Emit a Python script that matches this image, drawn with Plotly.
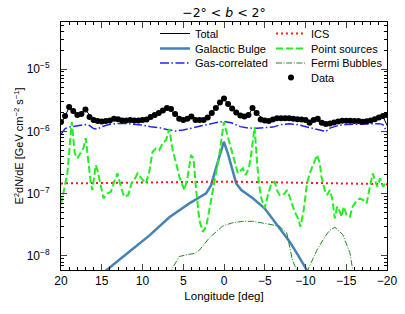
import plotly.graph_objects as go

# ---------------- data ----------------
data_l = [20, 19.5, 19, 18.5, 18, 17.5, 17, 16.5, 16, 15.5, 15, 14.5, 14, 13.5, 13, 12.5, 12, 11.5, 11, 10.5,
          10, 9.5, 9, 8.5, 8, 7.5, 7, 6.5, 6, 5.5, 5, 4.5, 4, 3.5, 3, 2.5, 2, 1.5, 1, 0.5,
          0, -0.5, -1, -1.5, -2, -2.5, -3, -3.5, -4, -4.5, -5, -5.5, -6, -6.5, -7, -7.5, -8, -8.5, -9, -9.5,
          -10, -10.5, -11, -11.5, -12, -12.5, -13, -13.5, -14, -14.5, -15, -15.5, -16, -16.5, -17, -17.5,
          -18, -18.5, -19, -19.5, -20]
data_v = [1.41, 1.76, 2.45, 2.12, 1.83, 1.90, 2.24, 1.70, 1.52, 1.46, 1.44, 1.46, 1.49, 1.60, 1.56, 1.49, 1.49, 1.52, 1.49, 1.49,
          1.52, 1.55, 1.70, 1.83, 1.97, 2.16, 2.37, 2.28, 1.90, 1.60, 1.52, 1.60, 1.73, 1.52, 1.52, 1.52, 1.67, 1.97, 2.37, 2.90,
          3.36, 2.74, 2.32, 2.00, 1.79, 1.73, 1.83, 2.37, 1.97, 1.55, 1.49, 1.46, 1.55, 1.62, 1.62, 1.62, 1.62, 1.60, 1.56, 1.55,
          1.52, 1.38, 1.52, 1.60, 1.38, 1.31, 1.34, 1.39, 1.44, 1.48, 1.48, 1.48, 1.46, 1.46, 1.43, 1.45,
          1.49, 1.56, 1.67, 1.76, 1.83]  # x 1e-6

total_l = [20, 19.5, 19, 18, 17, 16, 15, 14, 13, 12, 11, 10, 9, 8, 7, 6, 5, 4, 3, 2, 1, 0,
           -1, -2, -3, -3.5, -4, -5, -6, -7, -8, -9, -10, -11, -12, -13, -14, -15, -16, -17, -18, -19, -19.5, -20]
total_v = [1.30, 1.75, 2.40, 1.85, 2.20, 1.55, 1.45, 1.49, 1.55, 1.50, 1.50, 1.52, 1.68, 1.95, 2.35, 1.90, 1.52, 1.72, 1.52, 1.66, 2.35, 3.30,
           2.30, 1.78, 1.82, 2.35, 1.95, 1.50, 1.55, 1.62, 1.62, 1.56, 1.52, 1.50, 1.40, 1.34, 1.44, 1.48, 1.46, 1.43, 1.49, 1.66, 1.75, 1.25]  # x 1e-6

gas_l = [20, 19.5, 19, 18, 17, 16.5, 16, 15.5, 15, 14, 13, 12, 11, 10, 9, 8, 7, 6, 5, 4, 3, 2, 1, 0,
         -1, -2, -3, -4, -5, -6, -7, -8, -9, -10, -11, -12, -12.5, -13, -14, -15, -16, -17, -18, -19, -19.5, -20]
gas_v = [0.90, 1.11, 1.17, 1.24, 1.285, 1.24, 1.11, 1.09, 1.19, 1.295, 1.34, 1.34, 1.31, 1.26, 1.19, 1.15, 1.07, 1.01, 1.05, 1.13, 1.22, 1.31, 1.38, 1.44,
         1.36, 1.19, 1.13, 1.12, 1.13, 1.17, 1.285, 1.33, 1.285, 1.19, 1.09, 1.03, 0.993, 1.13, 1.24, 1.285, 1.295, 1.30, 1.31, 1.33, 1.285, 0.975]  # x 1e-6

ics_l = [20, 15, 10, 5, 0, -5, -10, -15, -20]
ics_v = [1.46, 1.48, 1.50, 1.54, 1.56, 1.53, 1.50, 1.46, 1.42]  # x 1e-7

bulge_l = [15, 14.5, 11.63, 9.17, 6.71, 4.25, 2.19, 1.58, 1.17, 0.55, 0.02, -0.47, -1.08, -1.5, -2.12, -3.54, -4.98,
           -6.42, -8.06, -9.08, -10.12, -10.5]
bulge_v = [5.0e-9, 5.8e-9, 1.17e-8, 2.12e-8, 4.17e-8, 6.98e-8, 1.01e-7, 1.37e-7, 2.12e-7, 3.91e-7, 6.81e-7, 4.44e-7, 2.39e-7,
           1.46e-7, 1.14e-7, 8.41e-8, 5.81e-8, 3.33e-8, 1.69e-8, 1.03e-8, 6.3e-9, 5.0e-9]

ps_l = [20.0, 19.22, 18.68, 18.31, 17.99, 17.58, 17.26, 16.96, 16.68, 16.34, 16.15, 15.73, 15.53, 15.11, 14.79, 14.30,
        13.88, 13.48, 13.07, 12.65, 12.25, 11.75, 11.35, 11.02, 10.61, 10.12, 9.58, 9.17, 8.76, 8.34, 7.94, 7.53,
        7.11, 6.71, 6.30, 5.88, 5.48, 4.86, 4.46, 4.04, 3.75, 3.42, 3.02, 2.61, 2.19, 1.58, 0.96, 0.55,
        0.02, -0.59, -0.89, -1.29, -1.70, -1.91, -2.31, -2.65, -3.05, -3.35, -3.75, -4.04, -4.28, -4.58, -4.98, -5.39,
        -5.81, -6.22, -6.50, -6.83, -7.24, -7.45, -7.73, -7.98, -8.27, -8.68, -9.08, -9.38, -9.78, -10.19, -10.52, -10.81,
        -11.14, -11.42, -11.75, -11.96, -12.37, -12.65, -12.98, -13.27, -13.60, -13.88, -14.22, -14.42, -14.71, -15.04, -15.45, -15.78,
        -16.18, -16.68, -17.08, -17.50, -17.82, -18.24, -18.52, -18.81, -19.14, -19.54, -19.88]
ps_v = [6.76e-8, 2.12e-7, 1.41e-6, 4.44e-7, 3.69e-7, 4.44e-7, 5.33e-7, 7.76e-7, 3.46e-7, 1.46e-7, 1.14e-7, 2.88e-7, 2.39e-7, 1.22e-7, 8.41e-8, 1.01e-7,
        1.07e-7, 1.55e-7, 2.12e-7, 1.29e-7, 8.91e-8, 9.51e-8, 1.46e-7, 1.65e-7, 2.12e-7, 1.76e-7, 1.46e-7, 2.25e-7, 4.71e-7, 5.33e-7, 5.01e-7, 6.41e-7,
        7.24e-7, 1.09e-6, 5.01e-7, 3.10e-7, 1.87e-7, 1.14e-7, 1.87e-7, 4.17e-7, 3.72e-7, 1.14e-7, 3.77e-8, 2.44e-8, 2.94e-8, 7.89e-8, 2.12e-7, 4.44e-7,
        1.41e-6, 7.24e-7, 5.01e-7, 3.46e-7, 2.12e-7, 2.25e-7, 2.55e-7, 1.99e-7, 2.55e-7, 4.44e-7, 1.17e-6, 3.46e-7, 1.46e-7, 8.41e-8, 5.81e-8, 9.51e-8,
        1.46e-7, 1.55e-7, 1.14e-7, 9.51e-8, 9.51e-8, 1.01e-7, 1.14e-7, 9.51e-8, 7.41e-8, 5.12e-8, 4.02e-8, 2.94e-8, 5.46e-8, 1.46e-7, 2.12e-7, 2.70e-7,
        3.46e-7, 4.17e-7, 3.06e-7, 1.87e-7, 1.14e-7, 9.51e-8, 1.14e-7, 8.41e-8, 4.02e-8, 6.17e-8, 5.12e-8, 4.26e-8, 6.17e-8, 4.54e-8, 4.26e-8, 6.17e-8,
        7.41e-8, 8.41e-8, 7.89e-8, 6.98e-8, 1.14e-7, 2.12e-7, 1.65e-7, 1.29e-7, 1.76e-7, 1.29e-7, 1.55e-7]

fb_l = [6.8, 6.46, 5.5, 4.5, 3.6, 3.0, 1.8, 0.2, -1.0, -2.3, -3.5, -5.2, -6.8, -7.7, -8.4, -8.92, -9.3,
        -9.9, -10.28, -11.38, -12.5, -13.0, -13.6, -14.58, -15.45, -15.8, -16.2]
fb_v = [5.0e-9, 5.9e-9, 9.8e-9, 1.05e-8, 1.1e-8, 1.25e-8, 1.95e-8, 3.0e-8, 3.4e-8, 3.6e-8, 3.6e-8, 3.3e-8, 3.0e-8, 2.35e-8, 8.5e-9, 5.9e-9, 3.5e-9,
        3.5e-9, 5.9e-9, 1.23e-8, 2.15e-8, 2.6e-8, 2.9e-8, 2.2e-8, 1.12e-8, 5.9e-9, 3.5e-9]

x_ticks = [20, 15, 10, 5, 0, -5, -10, -15, -20]
y_ticks = [1e-8, 1e-7, 1e-6, 1e-5]
y_ticktext = ["10<sup>−8</sup>", "10<sup>−7</sup>", "10<sup>−6</sup>", "10<sup>−5</sup>"]

# ---------------- figure ----------------
FONT = "Liberation Sans, Arial, sans-serif"
ML, MR, MT, MB = 61, 18, 22, 44
W, H = 405, 314
PW, PH = W - ML - MR, H - MT - MB

col1_x = (155 - ML) / PW
col2_x = (271 - ML) / PW
row_y = [(H - MB - py) / PH for py in (33.5, 48.5, 63, 77.5)]

fig = go.Figure()

fig.add_trace(go.Scatter(x=total_l, y=[v * 1e-6 for v in total_v], mode="lines", name="Total",
                         line=dict(color="black", width=1), legend="legend"))
fig.add_trace(go.Scatter(x=bulge_l, y=bulge_v, mode="lines", name="Galactic Bulge",
                         line=dict(color="#4682b4", width=2.5), legend="legend2"))
fig.add_trace(go.Scatter(x=gas_l, y=[v * 1e-6 for v in gas_v], mode="lines", name="Gas-correlated",
                         line=dict(color="#2323f5", width=1.5, dash="9px,2.5px,1.5px,2.5px"), legend="legend3"))
fig.add_trace(go.Scatter(x=ics_l, y=[v * 1e-7 for v in ics_v], mode="lines", name="ICS",
                         line=dict(color="#ff1a1a", width=2, dash="2px,3px"), legend="legend4"))
fig.add_trace(go.Scatter(x=ps_l, y=ps_v, mode="lines", name="Point sources",
                         line=dict(color="#22ee22", width=2, dash="7px,3px"), legend="legend5"))
fig.add_trace(go.Scatter(x=fb_l, y=fb_v, mode="lines", name="Fermi Bubbles",
                         line=dict(color="#1e8c1e", width=1, dash="6px,1.6px,1px,1.6px"), legend="legend6"))
dv = [v * 1e-6 for v in data_v]
fig.add_trace(go.Scatter(x=data_l, y=dv, mode="markers", name="Data",
                         marker=dict(color="black", size=6),
                         error_y=dict(type="data", array=[0.07 * v for v in dv], color="black", thickness=1.2, width=0),
                         legend="legend7"))

minor_y = [m * 10.0 ** k for k in range(-9, -3) for m in range(2, 10)]

leg_common = dict(xanchor="left", yanchor="middle", bgcolor="rgba(0,0,0,0)", font=dict(size=11),
                  itemwidth=30, tracegroupgap=0, borderwidth=0)
fig.update_layout(
    width=W, height=H,
    margin=dict(l=ML, r=MR, t=MT, b=MB, autoexpand=False),
    paper_bgcolor="white", plot_bgcolor="white",
    font=dict(family=FONT, size=11, color="black"),
    title=dict(text="−2° < <i>b</i> < 2°", x=(ML + PW / 2) / W, xanchor="center", y=0.973, yanchor="top",
               font=dict(family="DejaVu Sans, sans-serif", size=12.5)),
    showlegend=True,
    legend=dict(x=col1_x, y=row_y[0], **leg_common),
    legend2=dict(x=col1_x, y=row_y[1], **leg_common),
    legend3=dict(x=col1_x, y=row_y[2], **leg_common),
    legend4=dict(x=col2_x, y=row_y[0], **leg_common),
    legend5=dict(x=col2_x, y=row_y[1], **leg_common),
    legend6=dict(x=col2_x, y=row_y[2], **leg_common),
    legend7=dict(x=col2_x, y=row_y[3], **leg_common),
)

fig.update_xaxes(
    range=[20, -20], tickvals=x_ticks, ticks="inside", ticklen=6, tickwidth=1, automargin=False,
    showline=True, linecolor="black", linewidth=1, mirror="allticks", showgrid=False, zeroline=False,
    tickfont=dict(size=12), title=dict(text="Longitude [deg]", font=dict(size=11.5), standoff=4),
    minor=dict(dtick=1, ticks="inside", ticklen=3, tickwidth=1, tickcolor="black", showgrid=False),
)
fig.update_yaxes(
    type="log", range=[-8.225, -4.245], tickvals=y_ticks, ticktext=y_ticktext, ticks="inside", ticklen=6, tickwidth=1,
    automargin=False, ticklabelstandoff=8,
    showline=True, linecolor="black", linewidth=1, mirror="allticks", showgrid=False, zeroline=False,
    tickfont=dict(size=12),
    title=dict(text="E<sup>2</sup>dN/dE [GeV cm<sup>−2</sup> s<sup>−1</sup>]", font=dict(size=11), standoff=0),
    minor=dict(tickvals=minor_y, ticks="inside", ticklen=3, tickwidth=1, tickcolor="black", showgrid=False),
)

fig.write_html("out.html", config={"displayModeBar": False},
               post_script="document.body.style.margin='0px';")
